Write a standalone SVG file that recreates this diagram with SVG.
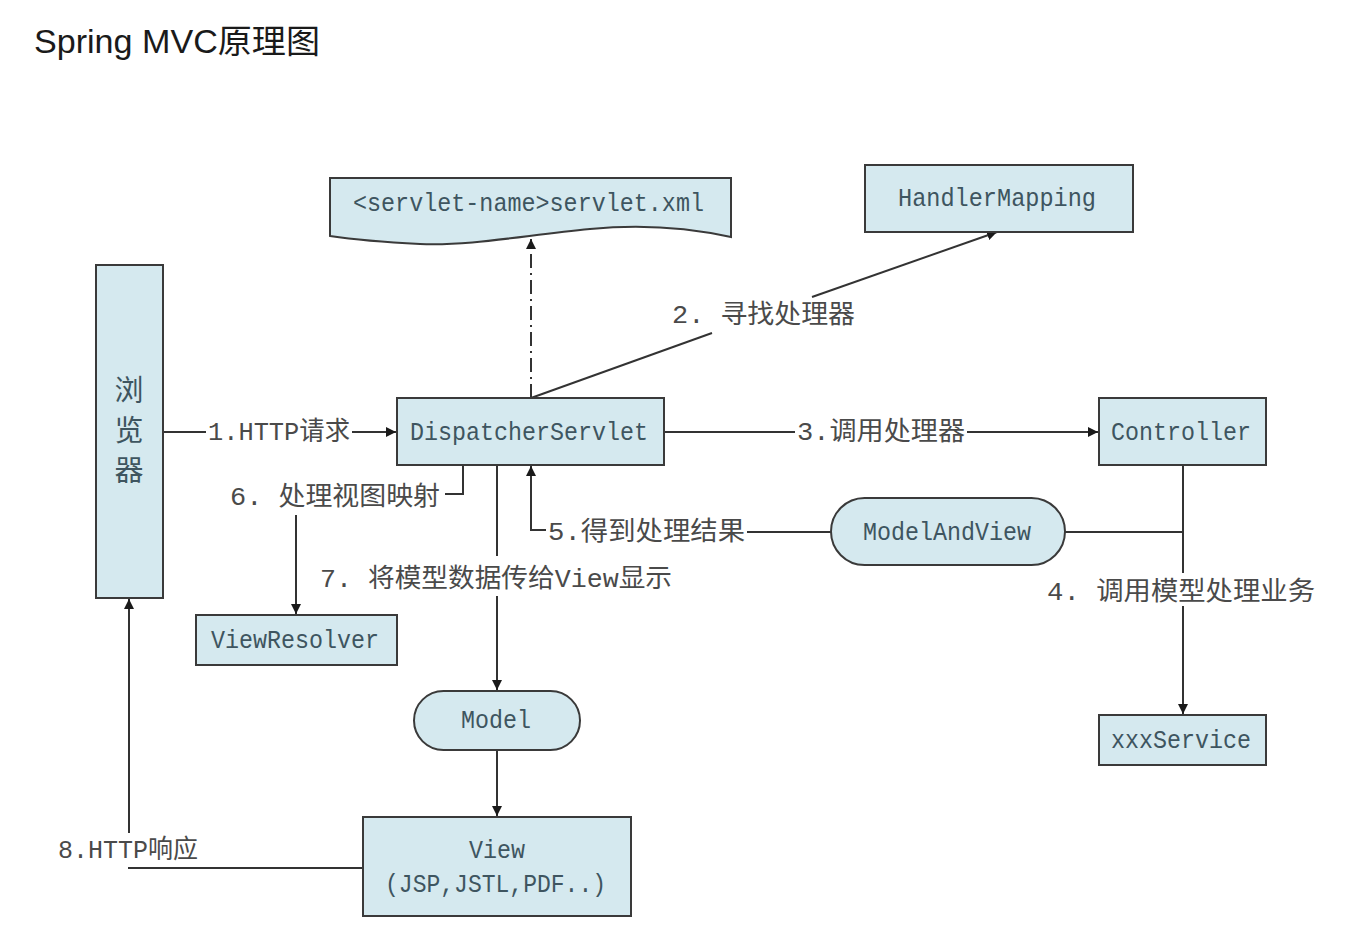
<svg xmlns="http://www.w3.org/2000/svg" width="1370" height="934" viewBox="0 0 1370 934">
<defs>
<marker id="arr" viewBox="0 0 10 10" refX="10" refY="5" markerWidth="10" markerHeight="10" markerUnits="userSpaceOnUse" orient="auto">
<path d="M0,0 L10,5 L0,10 Z" fill="#1a1a1a"/>
</marker>
<style>
.box{fill:#d5e9ef;stroke:#3a3a3a;stroke-width:2}
.nt{font-family:"Liberation Mono","Noto Sans CJK SC",monospace;font-size:26px;fill:#3e5560}
.lb{font-family:"Liberation Mono","Noto Sans CJK SC",monospace;font-size:26px;fill:#4a4a4a}
.cn{font-family:"Noto Sans CJK SC",sans-serif;font-size:29px;fill:#3e5560;text-anchor:middle}
.ln{fill:none;stroke:#333;stroke-width:2}
.title{font-family:"Liberation Sans","Noto Sans CJK SC",sans-serif;font-size:33px;fill:#1a1a1a}
</style>
</defs>
<rect width="1370" height="934" fill="#ffffff"/>
<text class="title" x="34" y="53" textLength="286" lengthAdjust="spacingAndGlyphs">Spring MVC原理图</text>

<g id="connectors">
<line class="ln" x1="163" y1="432" x2="206" y2="432"/>
<line class="ln" x1="352" y1="432" x2="396" y2="432" marker-end="url(#arr)"/>
<line class="ln" x1="531" y1="398" x2="531" y2="239" stroke-dasharray="14,5,2,5" marker-end="url(#arr)"/>
<line class="ln" x1="531" y1="398" x2="712" y2="333"/>
<line class="ln" x1="812" y1="297" x2="997" y2="232" marker-end="url(#arr)"/>
<line class="ln" x1="664" y1="432" x2="795" y2="432"/>
<line class="ln" x1="967" y1="432" x2="1098" y2="432" marker-end="url(#arr)"/>
<line class="ln" x1="1183" y1="465" x2="1183" y2="573"/>
<line class="ln" x1="1183" y1="606" x2="1183" y2="714" marker-end="url(#arr)"/>
<line class="ln" x1="1183" y1="532" x2="1065" y2="532"/>
<line class="ln" x1="831" y1="532" x2="747" y2="532"/>
<polyline class="ln" points="546,530 531,530 531,466" marker-end="url(#arr)"/>
<polyline class="ln" points="445,494 463,494 463,465"/>
<line class="ln" x1="296" y1="515" x2="296" y2="614" marker-end="url(#arr)"/>
<line class="ln" x1="497" y1="465" x2="497" y2="556"/>
<line class="ln" x1="497" y1="596" x2="497" y2="690" marker-end="url(#arr)"/>
<line class="ln" x1="497" y1="750" x2="497" y2="816" marker-end="url(#arr)"/>
<line class="ln" x1="363" y1="868" x2="128" y2="868"/>
<line class="ln" x1="129" y1="833" x2="129" y2="599" marker-end="url(#arr)"/>
</g>

<g id="browser">
<rect class="box" x="96" y="265" width="67" height="333"/>
<text class="cn" x="129" y="401">浏</text>
<text class="cn" x="129" y="441">览</text>
<text class="cn" x="129" y="481">器</text>
</g>
<g id="servletxml">
<path class="box" d="M330,178 H731 V237 C690,228 640,224 590,229 C520,236 470,246 420,244 C380,242 350,239 330,236 Z"/>
<text class="nt" x="353" y="211" textLength="351" lengthAdjust="spacingAndGlyphs">&lt;servlet-name&gt;servlet.xml</text>
</g>
<g id="handlermapping">
<rect class="box" x="865" y="165" width="268" height="67"/>
<text class="nt" x="898" y="206" textLength="198" lengthAdjust="spacingAndGlyphs">HandlerMapping</text>
</g>
<g id="dispatcher">
<rect class="box" x="397" y="398" width="267" height="67"/>
<text class="nt" x="410" y="440" textLength="238" lengthAdjust="spacingAndGlyphs">DispatcherServlet</text>
</g>
<g id="controller">
<rect class="box" x="1099" y="398" width="167" height="67"/>
<text class="nt" x="1111" y="440" textLength="140" lengthAdjust="spacingAndGlyphs">Controller</text>
</g>
<g id="modelandview">
<rect class="box" x="831" y="498" width="234" height="67" rx="33.5"/>
<text class="nt" x="863" y="540" textLength="168" lengthAdjust="spacingAndGlyphs">ModelAndView</text>
</g>
<g id="viewresolver">
<rect class="box" x="196" y="615" width="201" height="50"/>
<text class="nt" x="211" y="648" textLength="168" lengthAdjust="spacingAndGlyphs">ViewResolver</text>
</g>
<g id="model">
<rect class="box" x="414" y="691" width="166" height="59" rx="29.5"/>
<text class="nt" x="461" y="728" textLength="70" lengthAdjust="spacingAndGlyphs">Model</text>
</g>
<g id="view">
<rect class="box" x="363" y="817" width="268" height="99"/>
<text class="nt" x="469" y="858" textLength="56" lengthAdjust="spacingAndGlyphs">View</text>
<text class="nt" x="385" y="892" textLength="221" lengthAdjust="spacingAndGlyphs">(JSP,JSTL,PDF..)</text>
</g>
<g id="xxxservice">
<rect class="box" x="1099" y="715" width="167" height="50"/>
<text class="nt" x="1111" y="748" textLength="140" lengthAdjust="spacingAndGlyphs">xxxService</text>
</g>

<g id="labels">
<text class="lb" x="208" y="440" textLength="142" lengthAdjust="spacingAndGlyphs">1.HTTP请求</text>
<text class="lb" x="672" y="323" textLength="183" lengthAdjust="spacingAndGlyphs">2. 寻找处理器</text>
<text class="lb" x="797" y="440" textLength="168" lengthAdjust="spacingAndGlyphs">3.调用处理器</text>
<text class="lb" x="1047" y="600" textLength="268" lengthAdjust="spacingAndGlyphs">4. 调用模型处理业务</text>
<text class="lb" x="548" y="540" textLength="197" lengthAdjust="spacingAndGlyphs">5.得到处理结果</text>
<text class="lb" x="230" y="505" textLength="210" lengthAdjust="spacingAndGlyphs">6. 处理视图映射</text>
<text class="lb" x="320" y="587" textLength="352" lengthAdjust="spacingAndGlyphs">7. 将模型数据传给View显示</text>
<text class="lb" x="58" y="858" textLength="140" lengthAdjust="spacingAndGlyphs">8.HTTP响应</text>
</g>
</svg>
